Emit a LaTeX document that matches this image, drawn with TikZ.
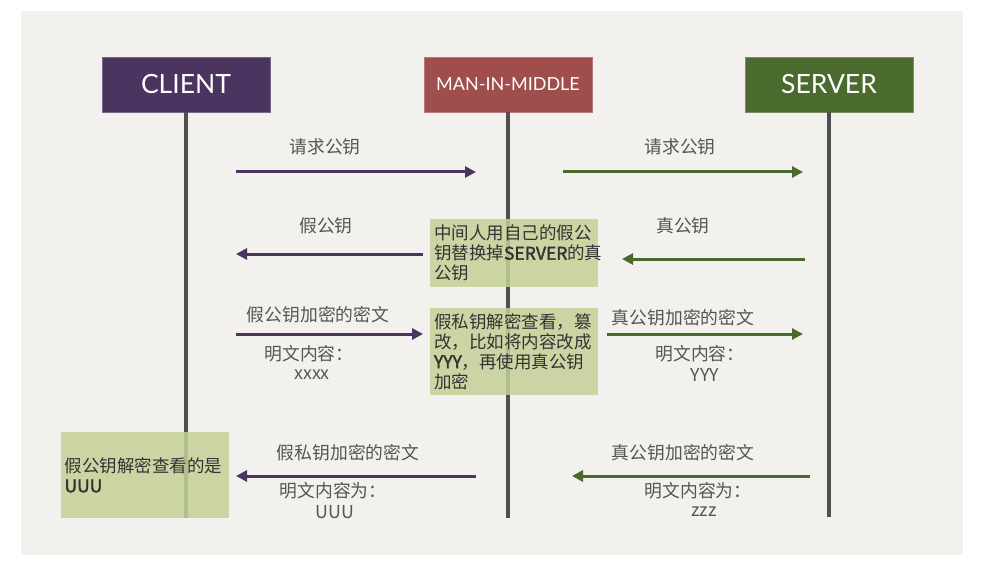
\documentclass[tikz,border=0pt]{standalone}
\usepackage{fontspec}
\setmainfont{Lato}
\newfontfamily\cjk[AutoFakeBold=2]{Noto Sans CJK SC}
\usetikzlibrary{arrows.meta}
\definecolor{bgc}{HTML}{F2F1EE}
\definecolor{cpur}{HTML}{4B3560}
\definecolor{cred}{HTML}{A04E4B}
\definecolor{cgrn}{HTML}{4A6A2E}
\definecolor{lline}{HTML}{505050}
\definecolor{txtc}{HTML}{555555}
\definecolor{boxc}{HTML}{C3D197}
\begin{document}
\begin{tikzpicture}[x=1pt,y=-1pt,
  head/.style={minimum width=168pt,minimum height=55pt,inner sep=0pt,text=white,
    draw=#1!75!white,line width=0.8pt,fill=#1},
  life/.style={draw=lline,line width=4.5pt},
  msg/.style={line width=3pt,-{Triangle[length=11pt,width=11pt]}},
  lbl/.style={font=\cjk\fontsize{17.8}{20}\selectfont,text=txtc,inner sep=0pt},
  note/.style={fill=boxc,fill opacity=0.85,text opacity=1,text=black!80,
    inner xsep=4pt,inner ysep=0pt,minimum width=168pt,text width=160pt,align=left,
    font=\cjk\fontsize{17.5}{20}\selectfont}]
\useasboundingbox (0,0) rectangle (999,567);
\fill[white] (0,0) rectangle (999,567);
\fill[bgc] (21,11) rectangle (963,555);

% headers
\node[head=cpur,font=\fontsize{26.5}{30}\selectfont] (client) at (186,84.5) {CLIENT};
\node[head=cred,font=\fontsize{18}{22}\selectfont] (mim) at (508,84.5) {MAN-IN-MIDDLE};
\node[head=cgrn,font=\fontsize{26.5}{30}\selectfont] (server) at (829,84.5) {SERVER};

% lifeline ends
\coordinate (cend) at (186,518);
\coordinate (mend) at (508,518);
\coordinate (send) at (829,517);
\draw[life] (client.south) -- (cend);
\draw[life] (mim.south) -- (mend);
\draw[life] (server.south) -- (send);

% arrow endpoints
\coordinate (a1s) at (236,172); \coordinate (a1e) at (476,172);
\coordinate (b1s) at (563,172); \coordinate (b1e) at (803,172);
\coordinate (a2s) at (423,254); \coordinate (a2e) at (236,254);
\coordinate (b2s) at (805,259); \coordinate (b2e) at (622,259);
\coordinate (a3s) at (236,334); \coordinate (a3e) at (423,334);
\coordinate (b3s) at (607,334); \coordinate (b3e) at (803,334);
\coordinate (a4s) at (476,476); \coordinate (a4e) at (236,476);
\coordinate (b4s) at (810,476); \coordinate (b4e) at (572,476);

\draw[msg,cpur] (a1s) -- (a1e);
\draw[msg,cgrn] (b1s) -- (b1e);
\draw[msg,cpur] (a2s) -- (a2e);
\draw[msg,cgrn] (b2s) -- (b2e);
\draw[msg,cpur] (a3s) -- (a3e);
\draw[msg,cgrn] (b3s) -- (b3e);
\draw[msg,cpur] (a4s) -- (a4e);
\draw[msg,cgrn] (b4s) -- (b4e);

% labels
\node[lbl] (l1a) at (325,147) {请求公钥};
\node[lbl] (l1b) at (680,147) {请求公钥};
\node[lbl] (l2a) at (326,226) {假公钥};
\node[lbl] (l2b) at (683,226) {真公钥};
\node[lbl] (l3a) at (318,315) {假公钥加密的密文};
\node[lbl] (l3a2) at (309,354) {明文内容：};
\node[lbl] (l3a3) at (312,375) {xxxx};
\node[lbl] (l3b) at (683,318) {真公钥加密的密文};
\node[lbl] (l3b2) at (700,354) {明文内容：};
\node[lbl] (l3b3) at (705,375) {YYY};
\node[lbl] (l4a) at (348,453) {假私钥加密的密文};
\node[lbl] (l4a2) at (333,491) {明文内容为：};
\node[lbl] (l4a3) at (335,512) {UUU};
\node[lbl] (l4b) at (683,453) {真公钥加密的密文};
\node[lbl] (l4b2) at (698,491) {明文内容为：};
\node[lbl] (l4b3) at (704,512) {zzz};

% notes
\node[note,minimum height=68pt] (n1) at (514,253)
  {中间人用自己的假公\\钥替换掉\textbf{SERVER}的真\\公钥};
\node[note,minimum height=87pt] (n2) at (514,351.5)
  {假私钥解密查看，篡\\改，比如将内容改成\\\textbf{YYY}，再使用真公钥\\加密};
\node[note,minimum height=86pt] (n3) at (144.5,475)
  {假公钥解密查看的是\\\textbf{UUU}};
\end{tikzpicture}
\end{document}
